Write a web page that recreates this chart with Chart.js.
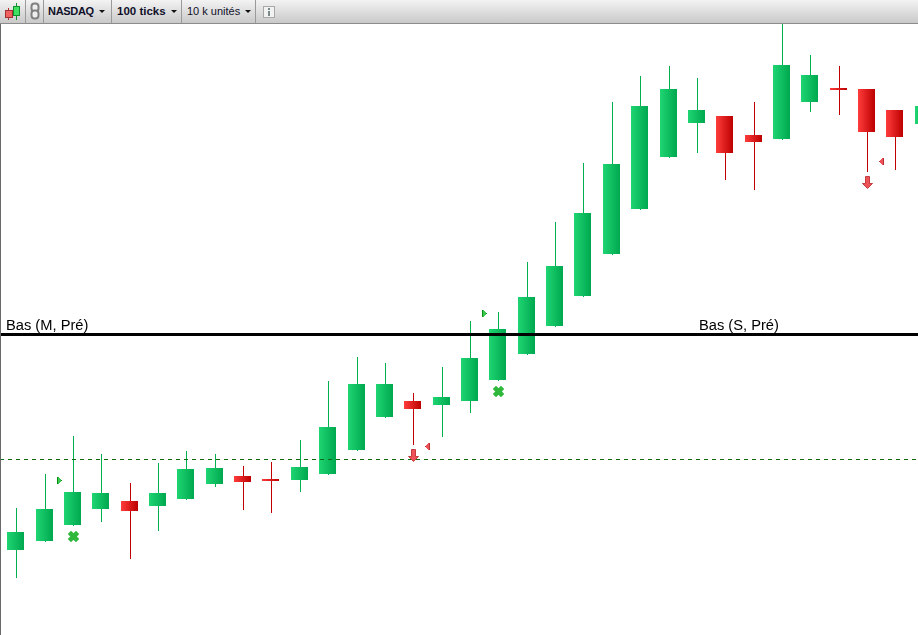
<!DOCTYPE html>
<html>
<head>
<meta charset="utf-8">
<title>NASDAQ 100 ticks</title>
<script src="https://cdn.jsdelivr.net/npm/chart.js@4/dist/chart.umd.min.js"></script>
<style>
    html, body { margin: 0; padding: 0; background: #fff; overflow: hidden; }
    body { width: 918px; height: 635px; position: relative; font-family: "Liberation Sans", Arial, sans-serif; }
    #toolbar {
        position: absolute; left: 0; top: 0; width: 918px; height: 23px;
        background: linear-gradient(#f3f3f3, #c9c9c9);
        border-bottom: 1px solid #8c8c8c;
    }
    #toolbar .sep { position: absolute; top: 0; width: 1px; height: 23px; background: #9a9a9a; }
    #toolbar .txt { position: absolute; top: 5px; line-height: 13px; color: #10102a; white-space: nowrap; }
    #toolbar .caret {
        position: absolute; top: 10px; width: 0; height: 0;
        border-left: 3px solid transparent; border-right: 3px solid transparent; border-top: 3px solid #111;
    }
    #toolbar svg { position: absolute; left: 0; top: 0; }
    #wrap { position: absolute; left: 0; top: 24px; width: 918px; height: 611px; }
    #leftEdge { position: absolute; left: 0; top: 24px; width: 1px; height: 611px; background: #6a6a6a; }
</style>
</head>
<body>
<div id="toolbar">
    <svg width="280" height="23">
        <line x1="8.5" y1="8" x2="8.5" y2="20" stroke="#b03030"/>
        <line x1="16.5" y1="3" x2="16.5" y2="20" stroke="#109030"/>
        <rect x="5.5" y="10.5" width="7" height="7" fill="#f06060" stroke="#a03030"/>
        <rect x="13.5" y="6.5" width="6" height="9" fill="#40e060" stroke="#109030"/>
        <rect x="31.5" y="3.5" width="7" height="8" rx="3" fill="#eee" stroke="#808080" stroke-width="2"/>
        <rect x="31.5" y="10.5" width="7" height="8" rx="3" fill="#eee" stroke="#808080" stroke-width="2"/>
        <rect x="263.5" y="6.5" width="11" height="11" fill="#f2f2f2" stroke="#a8a8a8"/>
        <rect x="268" y="8" width="2" height="2" fill="#7a8a8a"/>
        <rect x="268" y="11" width="2" height="5" fill="#7a8a8a"/>
    </svg>
    <div class="sep" style="left:25px"></div>
    <div class="sep" style="left:43px"></div>
    <div class="sep" style="left:111px"></div>
    <div class="sep" style="left:181px"></div>
    <div class="sep" style="left:255px"></div>
    <div class="txt" style="left:48px; font-size:11px; font-weight:bold; letter-spacing:-0.3px">NASDAQ</div>
    <div class="caret" style="left:99px"></div>
    <div class="txt" style="left:117px; font-size:11.5px; font-weight:bold">100 ticks</div>
    <div class="caret" style="left:171px"></div>
    <div class="txt" style="left:187px; font-size:11px">10 k unités</div>
    <div class="caret" style="left:245px"></div>
</div>
<div id="wrap"><canvas id="candleChart" width="918" height="611"></canvas></div>
<div id="leftEdge"></div>

<script>
// Candles (axis has no labels, so the price unit is arbitrary)
const opens  = [85, 94, 110, 126, 134, 129, 136, 151, 159, 156, 155, 161, 185, 218, 234, 230, 234, 255, 281, 309, 339, 381, 426, 478, 512, 519, 500, 496, 533, 547, 546, 525, 511];
const closes = [103, 126, 143, 142, 124, 142, 166, 167, 153, 154, 168, 208, 251, 251, 226, 238, 277, 306, 338, 369, 422, 471, 529, 546, 525, 482, 493, 570, 560, 545, 503, 498, 529];
const highs  = [127, 161, 199, 181, 152, 172, 184, 181, 169, 173, 195, 254, 278, 272, 242, 268, 314, 323, 373, 413, 472, 533, 559, 569, 557, 519, 533, 640, 580, 569, 546, 525, 535];
const lows   = [57, 93, 109, 113, 76, 104, 135, 148, 125, 122, 143, 160, 184, 217, 190, 198, 222, 254, 280, 308, 338, 380, 425, 477, 482, 455, 445, 495, 523, 520, 463, 465, 505];

// Horizontal levels
const levelPre = 300.5;
const levelDashed = 175.5;
const levelLabels = ['Bas (M, Pré)', 'Bas (S, Pré)'];
const levelLabelBars = [-0.345, 24.09];

// Signals: [bar, price]
const crossSignals = [[2.03, 98.5], [17.03, 243.5]];
const arrowSignals = [[14.03, 179.5], [30.04, 452.5]];
const buyTicks = [[1.543, 154.5], [16.53, 321.5]];
const sellTicks = [[14.52, 188.5], [30.53, 473.5]];

const xMin = -0.5554;
const xMax = 31.815;
const yMin = 0;
const yMax = 611;

const GREEN = ['#1fd572', '#00a84f'];
const RED = ['#ff3c3c', '#bc0000'];

const bars = opens.map((o, i) => i);
const isUp = i => closes[i] >= opens[i];

function makeMarker(w, h, draw) {
    const c = document.createElement('canvas');
    c.width = w;
    c.height = h;
    draw(c.getContext('2d'));
    return c;
}

const crossIcon = makeMarker(11, 11, g => {
    g.strokeStyle = '#2fb83c';
    g.lineWidth = 4.6;
    g.lineCap = 'square';
    g.beginPath();
    g.moveTo(3, 3);
    g.lineTo(8, 8);
    g.moveTo(8, 3);
    g.lineTo(3, 8);
    g.stroke();
});

const arrowIcon = makeMarker(11, 13, g => {
    g.fillStyle = '#ee5358';
    g.strokeStyle = '#c43c40';
    g.beginPath();
    g.moveTo(3.5, 0.5);
    g.lineTo(7.5, 0.5);
    g.lineTo(7.5, 7.5);
    g.lineTo(10.5, 7.5);
    g.lineTo(5.5, 12.5);
    g.lineTo(0.5, 7.5);
    g.lineTo(3.5, 7.5);
    g.closePath();
    g.fill();
    g.stroke();
});

// Small stepped triangle, flat side dark, tip pointing away
function tickIcon(fill, edge, pointsRight) {
    return makeMarker(5, 7, g => {
        [7, 7, 5, 3, 1].forEach((h, col) => {
            const x = pointsRight ? col : 4 - col;
            g.fillStyle = col === 0 || col === 4 ? edge : fill;
            g.fillRect(x, (7 - h) / 2, 1, h);
        });
    });
}
const buyIcon = tickIcon('#3cc850', '#0b8a14', true);
const sellIcon = tickIcon('#ee5358', '#b83035', false);

// Body gradient runs left to right across each candle
function bodyFill(ctx) {
    if (ctx.type !== 'data') return GREEN[0];
    const chart = ctx.chart;
    const px = chart.scales.x.getPixelForValue(ctx.dataIndex);
    const stops = isUp(ctx.dataIndex) ? GREEN : RED;
    if (!isFinite(px)) return stops[0];
    const cx = Math.floor(px) + 0.5;
    const grad = chart.ctx.createLinearGradient(cx - 8.5, 0, cx + 8.5, 0);
    grad.addColorStop(0, stops[0]);
    grad.addColorStop(1, stops[1]);
    return grad;
}

// Put everything on whole pixels, like the original platform does
const pixelSnap = {
    id: 'pixelSnap',
    afterDatasetsUpdate(chart) {
        chart.data.datasets.forEach((ds, d) => {
            if (ds.showLine) return;
            chart.getDatasetMeta(d).data.forEach(el => {
                el.x = Math.floor(el.x) + 0.5 + (ds.label === 'wicks' ? 1 : 0);
                if (ds.type === 'bar') {
                    el.y = Math.round(el.y);
                    el.base = Math.round(el.base);
                }
            });
        });
    }
};

// Level captions sit just over the thick line
const levelText = {
    id: 'levelText',
    afterDatasetsDraw(chart) {
        const g = chart.ctx;
        const y = chart.scales.y.getPixelForValue(levelPre) - 4.5;
        g.save();
        g.fillStyle = '#000';
        g.font = '14.7px "Liberation Sans", Arial, sans-serif';
        g.textBaseline = 'alphabetic';
        levelLabels.forEach((label, i) => {
            g.fillText(label, chart.scales.x.getPixelForValue(levelLabelBars[i]), y);
        });
        g.restore();
    }
};

const toPoints = list => list.map(p => ({ x: p[0], y: p[1] }));
const markerSet = (label, list, icon) => ({
    type: 'scatter',
    label,
    data: toPoints(list),
    pointStyle: icon,
    pointRadius: 6,
    order: 0
});
const levelLine = (label, value, color, width, dash) => ({
    type: 'scatter',
    label,
    showLine: true,
    data: [{ x: xMin, y: value }, { x: xMax, y: value }],
    borderColor: color,
    borderWidth: width,
    borderDash: dash,
    pointRadius: 0,
    order: 1
});

const ctx = document.getElementById('candleChart').getContext('2d');
const candleChart = new Chart(ctx, {
    data: {
        datasets: [
            markerSet('cross', crossSignals, crossIcon),
            markerSet('arrow', arrowSignals, arrowIcon),
            markerSet('buy', buyTicks, buyIcon),
            markerSet('sell', sellTicks, sellIcon),
            levelLine('pre', levelPre, '#000', 3, []),
            levelLine('dashed', levelDashed, '#0b6b12', 1, [4, 4]),
            {
                type: 'bar',
                label: 'bodies',
                data: bars.map(i => ({ x: i, y: [opens[i], closes[i]] })),
                backgroundColor: bodyFill,
                borderWidth: 0,
                inflateAmount: 0,
                barThickness: 17,
                grouped: false,
                order: 2
            },
            {
                type: 'bar',
                label: 'wicks',
                data: bars.map(i => ({ x: i, y: [lows[i], highs[i]] })),
                backgroundColor: ctx => isUp(ctx.dataIndex) ? '#00b050' : '#c00000',
                borderWidth: 0,
                inflateAmount: 0,
                barThickness: 1,
                grouped: false,
                order: 3
            }
        ]
    },
    options: {
        responsive: false,
        animation: false,
        events: [],
        layout: { padding: 0, autoPadding: false },
        plugins: { legend: { display: false }, tooltip: { enabled: false } },
        scales: {
            x: { type: 'linear', min: xMin, max: xMax, offset: false, display: false },
            y: { type: 'linear', min: yMin, max: yMax, display: false }
        }
    },
    plugins: [pixelSnap, levelText]
});
</script>
</body>
</html>
